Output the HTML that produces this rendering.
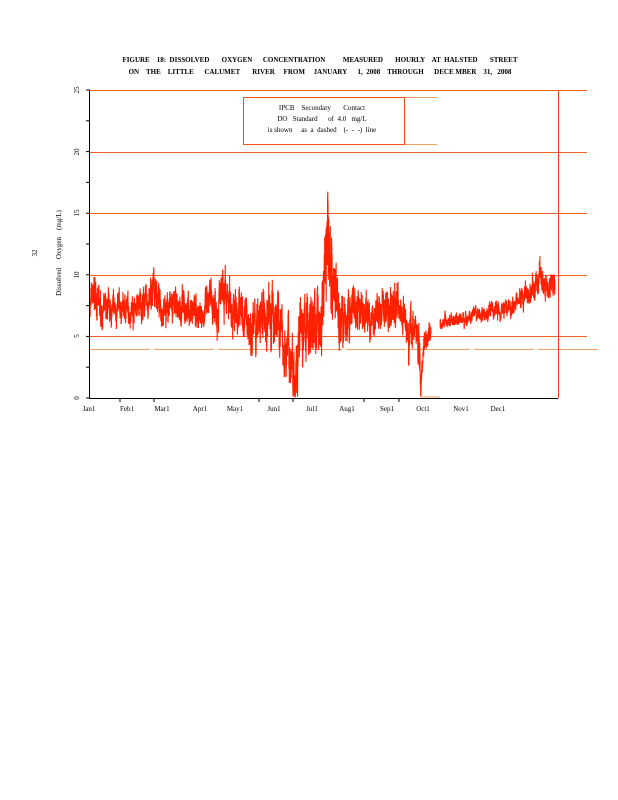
<!DOCTYPE html>
<html><head><meta charset="utf-8"><style>
body{margin:0;background:#fff;width:618px;height:800px;overflow:hidden}
svg{display:block}
text{font-family:"Liberation Serif",serif;fill:#000}
</style></head><body>
<svg id="s" width="618" height="800" viewBox="0 0 618 800" xmlns="http://www.w3.org/2000/svg">
<text x="320" y="62" font-size="7" font-weight="bold" text-anchor="middle" xml:space="preserve">FIGURE    18:  DISSOLVED       OXYGEN      CONCENTRATION          MEASURED       HOURLY    AT  HALSTED       STREET</text>
<text x="320" y="74" font-size="7" font-weight="bold" text-anchor="middle" xml:space="preserve">ON    THE    LITTLE      CALUMET       RIVER     FROM     JANUARY      1,  2008    THROUGH      DECE MBER    31,   2008</text>
<g stroke-width="1">
<line x1="90" y1="90.5" x2="587" y2="90.5" stroke="#f06020"/>
<line x1="90" y1="152.5" x2="587" y2="152.5" stroke="#f06020"/>
<line x1="90" y1="213.5" x2="587" y2="213.5" stroke="#f06020"/>
<line x1="90" y1="275.5" x2="587" y2="275.5" stroke="#f06020"/>
<line x1="90" y1="336.5" x2="587" y2="336.5" stroke="#f06020"/>
<line x1="90" y1="349.5" x2="598" y2="349.5" stroke="#f0a060" stroke-dasharray="60,4"/>
<line x1="558.5" y1="90" x2="558.5" y2="398" stroke="#f04010"/>
</g>
<rect x="243.5" y="97.5" width="161" height="47" fill="#fff" stroke="#f05010"/>
<line x1="405" y1="97.5" x2="437" y2="97.5" stroke="#f0a060"/>
<line x1="405" y1="144.5" x2="437" y2="144.5" stroke="#f0a060"/>
<text x="322" y="110" font-size="7" text-anchor="middle" xml:space="preserve">IPCB    Secondary       Contact</text>
<text x="322" y="121" font-size="7" text-anchor="middle" xml:space="preserve">DO   Standard      of  4.0   mg/L</text>
<text x="322" y="132" font-size="7" text-anchor="middle" xml:space="preserve">is shown     as  a  dashed    (-  -  -)  line</text>
<path id="data" fill="none" stroke="#ff2000" stroke-width="1.1"/>
<line x1="421" y1="397" x2="440" y2="397" stroke="#f0a060"/>
<line x1="89.5" y1="90" x2="89.5" y2="398" stroke="#000"/>
<line x1="89" y1="398.5" x2="558" y2="398.5" stroke="#000"/>
<g id="ticks" stroke="#000"></g>
<g font-size="7" text-anchor="middle">
<text transform="translate(79,90) rotate(-90)">25</text>
<text transform="translate(79,152) rotate(-90)">20</text>
<text transform="translate(79,213) rotate(-90)">15</text>
<text transform="translate(79,275) rotate(-90)">10</text>
<text transform="translate(79,336) rotate(-90)">5</text>
<text transform="translate(79,398) rotate(-90)">0</text>
<text transform="translate(61,253) rotate(-90)" xml:space="preserve">Dissolved     Oxygen    (mg/L)</text>
<text transform="translate(37,253) rotate(-90)">32</text>
</g>
<g font-size="7" text-anchor="middle">
<text x="89" y="411">Jan1</text><text x="127" y="411">Feb1</text><text x="162" y="411">Mar1</text>
<text x="200" y="411">Apr1</text><text x="235" y="411">May1</text><text x="274" y="411">Jun1</text>
<text x="312" y="411">Jul1</text><text x="347" y="411">Aug1</text><text x="387" y="411">Sep1</text>
<text x="423" y="411">Oct1</text><text x="461" y="411">Nov1</text><text x="498" y="411">Dec1</text>
</g>
</svg>
<script>
var t=document.getElementById('ticks'),h='';
for(var v=0;v<=25;v+=2.5){var y=398-v*12.32;h+='<line x1="86" x2="90" y1="'+y+'" y2="'+y+'"/>';}
[120,154,259,293,364,399].forEach(function(x){h+='<line x1="'+x+'" x2="'+x+'" y1="398" y2="402"/>';});
t.innerHTML=h;
var P=[[90,7.5,1],[95,8.5,1.3],[100,7,1.2],[105,7,1],[130,7.3,1],[150,7.8,1.2],[155,9,1.4],[160,7.5,1.2],[200,7,1.2],[220,8,1.6],[240,7,1.8],[255,5.5,1.8],[265,6.5,2],[275,7,2.3],[285,4,2],[295,3,2.5],[300,5,2.5],[310,6,2.5],[322,6,2.5],[325,12,3.5],[328,13,4],[333,10,3],[338,7,2.2],[345,6,2],[360,7,1.8],[370,6.5,1.3],[380,7,1.5],[395,7.5,1.8],[405,7,1.2],[410,5,1.8],[415,6,1.2],[419,4,1.6],[421,1,1],[424,5,1],[431,5.5,.7]];
var Q=[[440,6.2,.5],[470,6.5,.5],[490,7,.6],[510,7.5,.7],[530,8.5,.9],[540,9.5,1],[555,9,1]];
var seed=7;function r(){seed=(seed*16807)%2147483647;return seed/2147483647;}
function seg(A){var d='',w=0,first=true;for(var x=A[0][0];x<=A[A.length-1][0];x+=0.1){var i=0;while(i<A.length-2&&A[i+1][0]<x)i++;var a=A[i],b=A[i+1],f=Math.min(1,Math.max(0,(x-a[0])/(b[0]-a[0])));var m=a[1]+(b[1]-a[1])*f,am=a[2]+(b[2]-a[2])*f;w=w*0.85+(r()-0.5)*am*0.9;var v=Math.max(0.1,m+w+(r()-0.5)*am*1.3);var y=398-v*12.32;d+=(first?'M':'L')+x.toFixed(2)+' '+y.toFixed(1);first=false;}return d;}
document.getElementById('data').setAttribute('d',seg(P)+seg(Q));
</script>
</body></html>
